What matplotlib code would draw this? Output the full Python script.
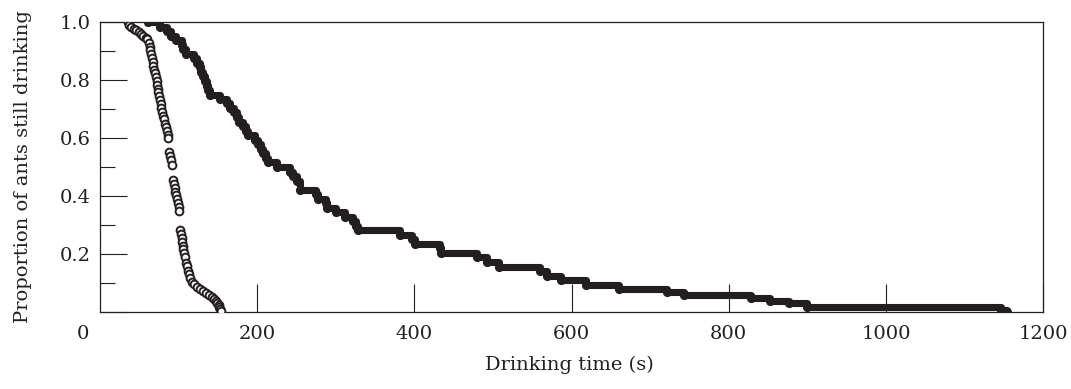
"""Survival curves: proportion of ants still drinking vs drinking time."""
import matplotlib
matplotlib.use("Agg")
import matplotlib.pyplot as plt
import matplotlib.ticker as mticker

INK = "#231f20"

# open circles: short drinkers (time s, proportion still drinking)
open_time = [35, 37, 40, 43, 46, 49, 52, 55, 58, 60,
             62, 63, 64, 65, 66, 67, 68, 69, 70, 71,
             72, 73, 73.5, 74, 75, 76, 77, 78, 79, 80,
             82, 83, 84, 85, 86, 87,
             88, 89, 90, 91,
             93, 94, 95, 96, 97, 98, 99, 100, 100.5,
             102, 103, 104, 104.5, 105, 106, 107, 108, 110, 111,
             112, 113, 115, 117, 120, 123, 127, 131, 135, 139,
             142, 145, 147, 149, 151, 152, 153, 154]
open_prop = [1.000, 0.990, 0.984, 0.977, 0.971, 0.965, 0.958, 0.952, 0.946, 0.940,
             0.927, 0.915, 0.902, 0.889, 0.876, 0.863, 0.850, 0.836, 0.823, 0.810,
             0.797, 0.783, 0.770, 0.757, 0.744, 0.730, 0.717, 0.703, 0.690, 0.677,
             0.664, 0.650, 0.637, 0.624, 0.611, 0.600,
             0.550, 0.537, 0.524, 0.508,
             0.455, 0.442, 0.428, 0.415, 0.402, 0.389, 0.375, 0.362, 0.348,
             0.283, 0.270, 0.256, 0.243, 0.229, 0.216, 0.203, 0.190, 0.170, 0.157,
             0.143, 0.130, 0.117, 0.105, 0.095, 0.087, 0.079, 0.072, 0.066, 0.060,
             0.053, 0.045, 0.038, 0.031, 0.024, 0.017, 0.010, 0.003]

# filled circles: long drinkers
filled_time = [61, 76, 85, 90, 97, 104, 106, 110, 120, 123,
               127, 129, 131, 134, 136, 137, 140, 153, 161, 166,
               170, 174, 177, 182, 186, 188, 197, 201, 205, 207,
               211, 214, 225, 242, 246, 251, 255, 275, 278, 287,
               289, 300, 312, 322, 326, 328, 382, 397, 401, 432,
               434, 480, 492, 508, 560, 569, 586, 618, 660, 722,
               743, 829, 852, 877, 900, 1147, 1154]
filled_prop = [1.000, 0.984, 0.969, 0.953, 0.938, 0.922, 0.906, 0.891, 0.875, 0.859,
               0.844, 0.828, 0.813, 0.797, 0.781, 0.766, 0.750, 0.734, 0.719, 0.703,
               0.688, 0.672, 0.656, 0.641, 0.625, 0.609, 0.594, 0.578, 0.563, 0.547,
               0.531, 0.516, 0.500, 0.484, 0.469, 0.453, 0.422, 0.406, 0.391, 0.375,
               0.359, 0.344, 0.328, 0.313, 0.297, 0.281, 0.266, 0.250, 0.234, 0.219,
               0.203, 0.188, 0.172, 0.156, 0.141, 0.125, 0.109, 0.094, 0.078, 0.070,
               0.060, 0.047, 0.038, 0.030, 0.016, 0.008, 0.000]

x_ticks = [200, 400, 600, 800, 1000, 1200]
y_ticks = [0, 0.2, 0.4, 0.6, 0.8, 1.0]
y_labels = ["", "0.2", "0.4", "0.6", "0.8", "1.0"]

plt.rcParams["font.family"] = ["DejaVu Serif"]
plt.rcParams["font.size"] = 14

fig = plt.figure(figsize=(10.71, 3.89), dpi=100)
ax = fig.add_axes([0.0934, 0.198, 0.8805, 0.7454])

ax.plot(filled_time, filled_prop, drawstyle="steps-post", color=INK, lw=5.1,
        marker="o", ms=5.6, mfc=INK, mec=INK, zorder=3)
ax.plot(open_time, open_prop, "o", ms=5.6, mfc="white", mec=INK, mew=1.4,
        linestyle="none", zorder=4)

ax.set_xlim(0, 1200)
ax.set_ylim(0, 1.0)
ax.set_xticks(x_ticks)
ax.set_xticklabels([str(t) for t in x_ticks])
ax.set_yticks(y_ticks)
ax.set_yticklabels(y_labels)
ax.yaxis.set_minor_locator(mticker.FixedLocator([0.1, 0.3, 0.5, 0.7, 0.9]))

ax.tick_params(axis="x", direction="in", length=20, width=0.8, pad=9.4,
               colors=INK, labelcolor=INK)
ax.tick_params(axis="y", which="major", direction="in", length=19.4, width=0.8,
               pad=7, colors=INK, labelcolor=INK)
ax.tick_params(axis="y", which="minor", direction="in", length=10.8, width=0.8,
               colors=INK)
for sp in ax.spines.values():
    sp.set_linewidth(0.9)
    sp.set_color(INK)

ax.annotate("0", xy=(0, 0), xycoords="axes fraction", xytext=(-12, -9.4),
            textcoords="offset points", ha="center", va="top", color=INK)

ax.set_xlabel("Drinking time (s)", color=INK)
ax.set_ylabel("Proportion of ants still drinking", color=INK)
ax.xaxis.set_label_coords(0.498, -0.152)
ax.yaxis.set_label_coords(-0.072, 0.5)

fig.savefig("out.png", dpi=100)
plt.close(fig)
